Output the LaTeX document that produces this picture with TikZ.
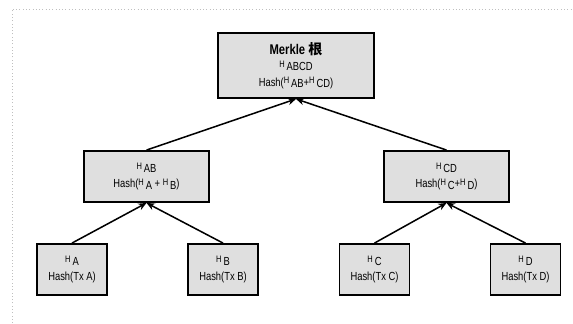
\documentclass[tikz,border=0pt]{standalone}
\usepackage{fontspec}
\setmainfont{Liberation Sans}[FakeStretch=0.8]
\newfontfamily\cjk{Noto Sans CJK SC}
\usetikzlibrary{arrows.meta}
\newcommand{\hsub}[1]{\raisebox{0.4ex}{\footnotesize H}\,\raisebox{-0.2ex}{#1}}
\begin{document}
\begin{tikzpicture}[x=0.03cm, y=-0.03cm, thick,
    hashbox/.style={draw, rectangle, line width=1.6pt, fill=gray!25, align=center, font=\normalsize, inner sep=2pt},
    leafbox/.style={hashbox, minimum width=2.1cm, minimum height=1.53cm},
    midbox/.style={hashbox, minimum width=3.75cm, minimum height=1.53cm},
    rootbox/.style={hashbox, minimum width=4.68cm, minimum height=1.95cm},
    link/.style={line width=1.3pt, -{Stealth[length=7pt, width=6pt]}}]
        \useasboundingbox (0,0) rectangle (573,323);
        \draw[gray!50, dotted, line width=0.8pt] (12,323) -- (12,9) -- (573,9);
        % Nodes
        \node[rootbox] (root) at (296,65.5) {{\large\bfseries Merkle {\cjk 根}}\\[1pt]\hsub{ABCD}\\[2pt]Hash(\hsub{AB}+\hsub{CD})};
        \node[midbox] (hab) at (146.5,176.5) {\hsub{AB}\\[2pt]Hash(\hsub{A} + \hsub{B})};
        \node[midbox] (hcd) at (446.5,176.5) {\hsub{CD}\\[2pt]Hash(\hsub{C}+\hsub{D})};
        \node[leafbox] (ha) at (72,269.5) {\hsub{A}\\[2pt]Hash(Tx A)};
        \node[leafbox] (hb) at (223,269.5) {\hsub{B}\\[2pt]Hash(Tx B)};
        \node[leafbox] (hc) at (374.5,269.5) {\hsub{C}\\[2pt]Hash(Tx C)};
        \node[leafbox] (hd) at (525.5,269.5) {\hsub{D}\\[2pt]Hash(Tx D)};

        % Arrows
        \draw[link] (hab.north) -- (root.south);
        \draw[link] (hcd.north) -- (root.south);
        \draw[link] (ha.north) -- (hab.south);
        \draw[link] (hb.north) -- (hab.south);
        \draw[link] (hc.north) -- (hcd.south);
        \draw[link] (hd.north) -- (hcd.south);
    \end{tikzpicture}
\end{document}
